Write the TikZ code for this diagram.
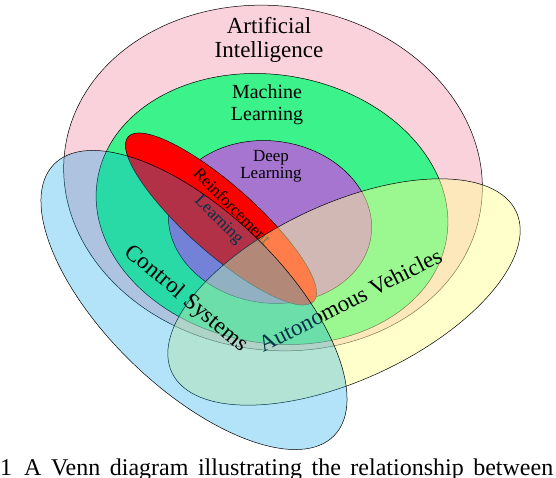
\documentclass[tikz,border=0pt]{standalone}
\usepackage{fontspec}
\setmainfont{Liberation Serif}
\usepackage{tikz}
\definecolor{aipink}{RGB}{250,210,220}
\definecolor{learngreen}{RGB}{60,242,138}
\definecolor{deeppurple}{RGB}{166,117,208}
\definecolor{rlred}{RGB}{255,0,0}
\definecolor{ctrlblue}{RGB}{0,163,232}
\definecolor{autoyellow}{RGB}{255,255,151}
\usetikzlibrary{positioning}

\begin{document}
\begin{tikzpicture}[
  x=1pt, y=-1pt,
  setshape/.style={draw=black,line width=0.5pt},
  setlabel/.style={align=center,inner sep=0pt,text=black},
]
  \useasboundingbox (0,0) rectangle (556,478);
  \clip (0,0) rectangle (556,478);

  % Artificial Intelligence
  \draw[setshape,fill=aipink,rotate around={-8:(273,178)}]
    (273,178) ellipse [x radius=210, y radius=172];
  \node[setlabel,font=\fontsize{23}{24}\selectfont] (ai) at (269,40) {Artificial\\Intelligence};

  % Machine Learning
  \draw[setshape,fill=learngreen,rotate around={-10:(272,209)}]
    (272,209) ellipse [x radius=177, y radius=134];
  \node[setlabel,font=\fontsize{20}{22}\selectfont] (ml) at (267,105) {Machine\\Learning};

  % Deep Learning
  \draw[setshape,fill=deeppurple,rotate around={-8:(270,222)}]
    (270,222) ellipse [x radius=102, y radius=81];
  \node[setlabel,font=\fontsize{17}{17}\selectfont] (dl) at (271,166) {Deep\\Learning};

  % Reinforcement Learning
  \draw[setshape,fill=rlred,rotate around={-41.5:(221,219)}]
    (221,219) ellipse [x radius=124, y radius=34];
  \node[setlabel,rotate=-45,font=\fontsize{17}{18}\selectfont] (rl) at (225,214) {Reinforcement\\Learning};

  % Autonomous Vehicles (translucent)
  \draw[setshape,fill=autoyellow,fill opacity=0.49,rotate around={25:(344,292)}]
    (344,292) ellipse [x radius=190, y radius=88];
  \node[setlabel,rotate=27,font=\fontsize{23}{24}\selectfont] (av) at (350,300) {Autonomous Vehicles};

  % Control Systems (translucent)
  \draw[setshape,fill=ctrlblue,fill opacity=0.3,rotate around={-44:(194,300)}]
    (194,300) ellipse [x radius=195, y radius=88];
  \node[setlabel,rotate=-40,font=\fontsize{23}{24}\selectfont] (cs) at (186,299) {Control Systems};

  % Caption
  \node[anchor=base west,inner sep=0pt,font=\fontsize{24}{26}\selectfont] (cap) at (0,475)
    {\makebox[553pt][s]{1\hspace{12pt}A Venn diagram illustrating the relationship between}};
\end{tikzpicture}
\end{document}
